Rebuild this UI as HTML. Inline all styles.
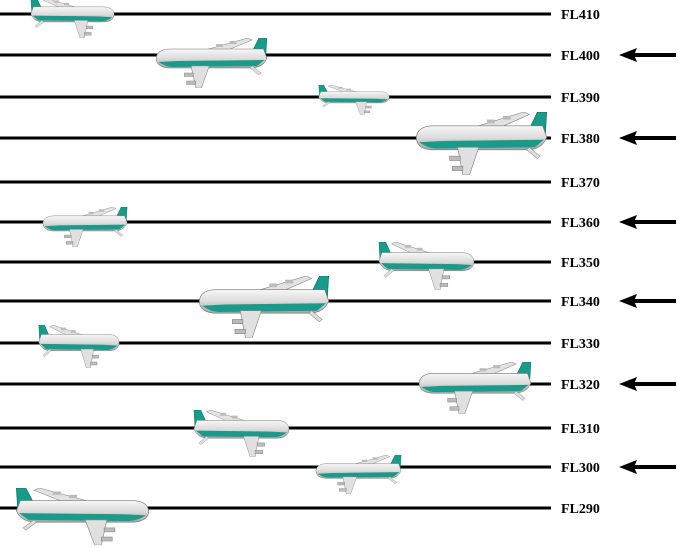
<!DOCTYPE html>
<html><head><meta charset="utf-8"><style>
html,body{margin:0;padding:0;background:#fff;}
#c{position:relative;width:678px;height:548px;overflow:hidden;}
</style></head><body>
<div id="c">
<svg width="678" height="548" viewBox="0 0 678 548" xmlns="http://www.w3.org/2000/svg">
<defs>
<linearGradient id="fus" x1="0" y1="0" x2="0" y2="1">
<stop offset="0" stop-color="#f6f6f6"/><stop offset="0.5" stop-color="#dcdcdc"/><stop offset="1" stop-color="#a0a0a0"/>
</linearGradient>
<symbol id="plane" viewBox="0 0 100 50" preserveAspectRatio="none">
<path d="M38,14 L82,0 L86,2 L56,16 Z" fill="#e2e2e2" stroke="#888" stroke-width="0.5"/>
<rect x="54" y="6" width="6" height="3" fill="#bbb"/>
<rect x="66" y="3" width="6" height="3" fill="#bbb"/>
<path d="M84,18 L92,0 L99,0 L98,18 Z" fill="#1a9a88" stroke="#0c6d60" stroke-width="0.5"/>
<path d="M1,20 Q2,11 14,11 L96,11 L99,20 Q96,29 86,30 L12,30 Q1,29 1,20 Z" fill="url(#fus)" stroke="#777" stroke-width="0.5"/>
<path d="M3,24 Q10,29 16,29 L90,28 L97,22 L20,23 Z" fill="#1a9a88"/>
<path d="M32,28 L48,28 L41,50 L36,50 Z" fill="#e0e0e0" stroke="#888" stroke-width="0.5"/>
<rect x="26" y="35" width="8" height="3.5" fill="#bbb" stroke="#777" stroke-width="0.4"/>
<rect x="28" y="43" width="8" height="3.5" fill="#bbb" stroke="#777" stroke-width="0.4"/>
<path d="M86,28 L94,35 L92,37 L84,30 Z" fill="#ddd" stroke="#888" stroke-width="0.4"/>
</symbol>
</defs>
<g id="levels"></g>
<g id="planes"></g>
</svg>
</div>
<script>
const levels=["FL410","FL400","FL390","FL380","FL370","FL360","FL350","FL340","FL330","FL320","FL310","FL300","FL290"];
const lineY=[14,55,97,138,182,222,262,301,343,384,428,467,508];
const arrowed=[0,1,0,1,0,1,0,1,0,1,0,1,0];
const planeX0=[30,155,318,415,null,42,378,198,38,418,193,315,15];
const planeX1=[115,268,390,548,null,128,475,330,120,532,290,402,150];
const planeY0=[-2,38,85,112,null,207,242,276,325,362,410,455,488];
const planeY1=[38,88,115,175,null,247,290,338,368,414,457,494,545];
const planeFacesRight=[1,0,1,0,0,0,1,0,1,0,1,0,1];
const NS="http://www.w3.org/2000/svg";
const gl=document.getElementById('levels');
const gp=document.getElementById('planes');
levels.forEach((lab,i)=>{
  const y=lineY[i];
  const ln=document.createElementNS(NS,'line');
  ln.setAttribute('x1',0);ln.setAttribute('x2',551);ln.setAttribute('y1',y);ln.setAttribute('y2',y);
  ln.setAttribute('stroke','#000');ln.setAttribute('stroke-width',3);
  
  
  gl.appendChild(ln);
  const t=document.createElementNS(NS,'text');
  t.setAttribute('x',561);t.setAttribute('y',y+5);
  t.setAttribute('font-family','"Liberation Serif", serif');
  t.setAttribute('font-weight','bold');t.setAttribute('font-size','14');
  t.textContent=lab;
  
  
  gl.appendChild(t);
  if(arrowed[i]){
    const a=document.createElementNS(NS,'g');
    
    
    const s=document.createElementNS(NS,'line');
    s.setAttribute('x1',632);s.setAttribute('x2',676);s.setAttribute('y1',y);s.setAttribute('y2',y);
    s.setAttribute('stroke','#000');s.setAttribute('stroke-width',4);
    a.appendChild(s);
    const h=document.createElementNS(NS,'path');
    h.setAttribute('d',`M619,${y} L637,${y-7} L634,${y} L637,${y+7} Z`);
    h.setAttribute('fill','#000');
    a.appendChild(h);
    gl.appendChild(a);
  }
  if(planeX0[i]!==null){
    const x0=planeX0[i],x1=planeX1[i],y0=planeY0[i],y1=planeY1[i];
    const u=document.createElementNS(NS,'use');
    u.setAttribute('href','#plane');
    u.setAttribute('x',0);u.setAttribute('y',0);
    u.setAttribute('width',x1-x0);u.setAttribute('height',y1-y0);
    if(planeFacesRight[i]){
      u.setAttribute('transform',`translate(${x1},${y0}) scale(-1,1)`);
    } else {
      u.setAttribute('transform',`translate(${x0},${y0})`);
    }
    
    
    gp.appendChild(u);
  }
});
</script>
</body></html>
